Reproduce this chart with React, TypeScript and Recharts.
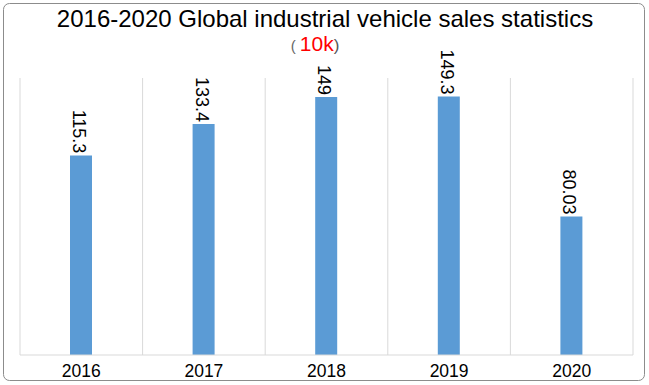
import { BarChart, Bar, XAxis, YAxis, CartesianGrid, LabelList } from "recharts";

const years = ["2016", "2017", "2018", "2019", "2020"];
const sales = [115.3, 133.4, 149, 149.3, 80.03];
const salesLabels = ["115.3", "133.4", "149", "149.3", "80.03"];

const data = years.map((year, i) => ({ year, sales: sales[i], label: salesLabels[i] }));

const FONT = "'Liberation Sans', Arial, sans-serif";

const RotatedLabel = (props: any) => {
  const { x, y, width, value } = props;
  const cx = x + width / 2 - 2;
  const ty = y - 2;
  return (
    <text
      x={cx}
      y={ty}
      transform={`rotate(90 ${cx} ${ty})`}
      textAnchor="end"
      dominantBaseline="central"
      fontSize={18}
      fontFamily={FONT}
      fill="#000"
    >
      {value}
    </text>
  );
};

const YearTick = (props: any) => {
  const { x, y, payload } = props;
  return (
    <text x={x} y={y + 14} textAnchor="middle" fontSize={17.5} fontFamily={FONT} fill="#000">
      {payload.value}
    </text>
  );
};

const App = () => {
  return (
    <div style={{ position: "absolute", left: 0, top: 0, width: 649, height: 385, background: "#fff" }}>
      <svg width={649} height={385} style={{ position: "absolute", left: 0, top: 0 }}>
        <rect x={3.5} y={3.5} width={641} height={377} rx={6} fill="#fff" stroke="#8c8c8c" strokeWidth={1} />
        <text x={325} y={27} textAnchor="middle" fontSize={24} fontFamily={FONT} fill="#000">
          2016-2020 Global industrial vehicle sales statistics
        </text>
        <text x={315} y={51} textAnchor="middle" fontSize={21} fontFamily={FONT}>
          <tspan fill="#666" fontSize={15}>( </tspan>
          <tspan fill="#ff0000">10k</tspan>
          <tspan fill="#555" fontSize={17}>)</tspan>
        </text>
      </svg>
      <div style={{ position: "absolute", left: 0, top: 0 }}>
        <BarChart
          width={649}
          height={385}
          data={data}
          margin={{ top: 78, right: 16, bottom: 0, left: 20 }}
        >
          <CartesianGrid
            horizontal={false}
            stroke="#d9d9d9"
            verticalCoordinatesGenerator={({ offset }: any) =>
              Array.from({ length: years.length + 1 }, (_, i) => offset.left + (i * offset.width) / years.length)
            }
          />
          <XAxis
            dataKey="year"
            height={30}
            axisLine={{ stroke: "#d9d9d9" }}
            tickLine={false}
            tick={<YearTick />}
            interval={0}
          />
          <YAxis hide domain={[0, 160]} />
          <Bar dataKey="sales" fill="#5b9bd5" barSize={22} isAnimationActive={false}>
            <LabelList dataKey="label" content={<RotatedLabel />} />
          </Bar>
        </BarChart>
      </div>
    </div>
  );
};

export default App;
